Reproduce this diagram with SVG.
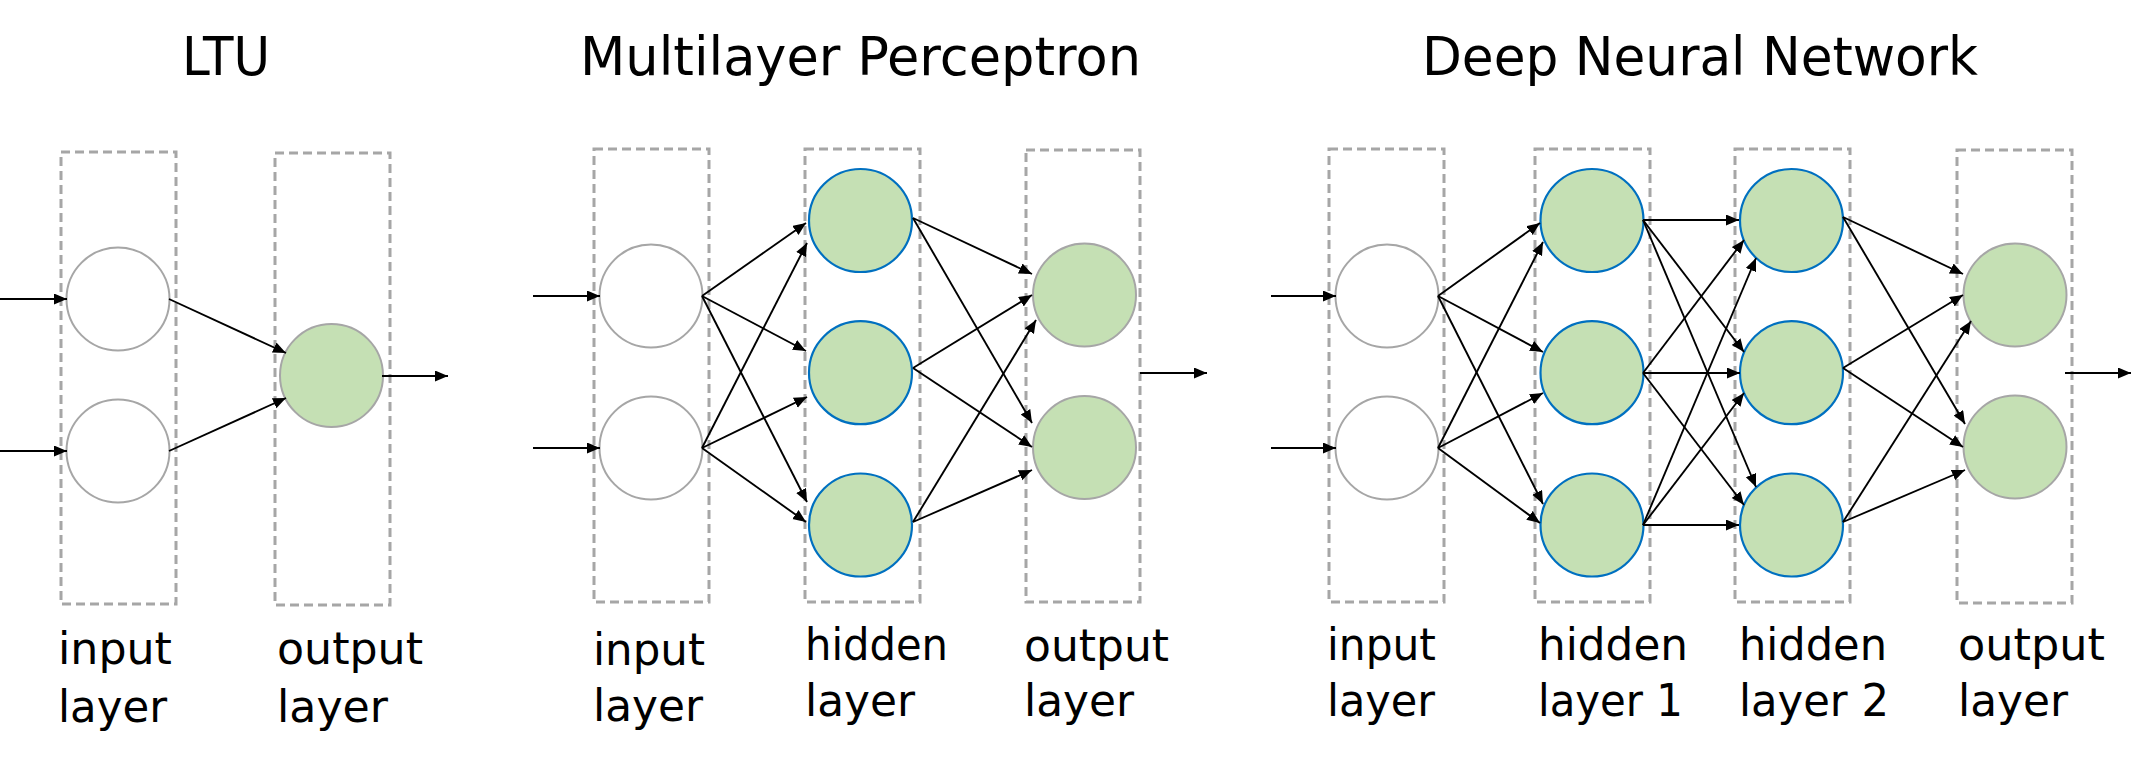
<svg xmlns="http://www.w3.org/2000/svg" width="2153" height="766" viewBox="0 0 2153 766">
<defs>
<marker id="ah" markerUnits="userSpaceOnUse" markerWidth="14" markerHeight="12" refX="13" refY="5.5" orient="auto">
<path d="M0,0 L13,5.5 L0,11 z" fill="#000"/>
</marker>
<style>
.box{fill:none;stroke:#a6a6a6;stroke-width:3;stroke-dasharray:9 5}
.in{fill:#fff;stroke:#a6a6a6;stroke-width:2}
.hid{fill:#c5e0b4;stroke:#0070c0;stroke-width:2.2}
.out{fill:#c5e0b4;stroke:#a6a6a6;stroke-width:2}
.c line{stroke:#000;stroke-width:1.9;marker-end:url(#ah)}
.t{font-family:"DejaVu Sans",Verdana,sans-serif;fill:#000}
.title{font-size:53px}
.lab{font-size:45px}
</style>
</defs>
<rect width="2153" height="766" fill="#fff"/>

<!-- Titles -->
<g id="titles" class="t title">
<text x="182" y="75" textLength="88" lengthAdjust="spacingAndGlyphs">LTU</text>
<text x="580" y="75" textLength="561" lengthAdjust="spacingAndGlyphs">Multilayer Perceptron</text>
<text x="1422" y="75" textLength="556" lengthAdjust="spacingAndGlyphs">Deep Neural Network</text>
</g>

<!-- Layer boxes -->
<g id="layers">
<rect id="ltu-in-box" class="box" x="61" y="152" width="115" height="452"/>
<rect id="ltu-out-box" class="box" x="275" y="153" width="115" height="452"/>
<rect id="mlp-in-box" class="box" x="594" y="149" width="115" height="453"/>
<rect id="mlp-hid-box" class="box" x="805" y="149" width="115" height="453"/>
<rect id="mlp-out-box" class="box" x="1026" y="150" width="114" height="452"/>
<rect id="dnn-in-box" class="box" x="1329" y="149" width="115" height="453"/>
<rect id="dnn-h1-box" class="box" x="1535" y="149" width="115" height="453"/>
<rect id="dnn-h2-box" class="box" x="1735" y="149" width="115" height="453"/>
<rect id="dnn-out-box" class="box" x="1957" y="150" width="115" height="453"/>
</g>

<!-- Nodes -->
<g id="ltu-i1"><circle class="in" cx="118" cy="299" r="51.5"/></g>
<g id="ltu-i2"><circle class="in" cx="118" cy="451" r="51.5"/></g>
<g id="ltu-o1"><circle class="out" cx="331.5" cy="375.5" r="51.5"/></g>

<g id="mlp-i1"><circle class="in" cx="651" cy="296" r="51.5"/></g>
<g id="mlp-i2"><circle class="in" cx="651" cy="448" r="51.5"/></g>
<g id="mlp-h1"><circle class="hid" cx="860.5" cy="220.5" r="51.5"/></g>
<g id="mlp-h2"><circle class="hid" cx="860.5" cy="372.7" r="51.5"/></g>
<g id="mlp-h3"><circle class="hid" cx="860.5" cy="525" r="51.5"/></g>
<g id="mlp-o1"><circle class="out" cx="1084.5" cy="295" r="51.5"/></g>
<g id="mlp-o2"><circle class="out" cx="1084.5" cy="447.5" r="51.5"/></g>

<g id="dnn-i1"><circle class="in" cx="1387" cy="296" r="51.5"/></g>
<g id="dnn-i2"><circle class="in" cx="1387" cy="448" r="51.5"/></g>
<g id="dnn-h11"><circle class="hid" cx="1592" cy="220.5" r="51.5"/></g>
<g id="dnn-h12"><circle class="hid" cx="1592" cy="372.7" r="51.5"/></g>
<g id="dnn-h13"><circle class="hid" cx="1592" cy="525" r="51.5"/></g>
<g id="dnn-h21"><circle class="hid" cx="1791.5" cy="220.5" r="51.5"/></g>
<g id="dnn-h22"><circle class="hid" cx="1791.5" cy="372.7" r="51.5"/></g>
<g id="dnn-h23"><circle class="hid" cx="1791.5" cy="525" r="51.5"/></g>
<g id="dnn-o1"><circle class="out" cx="2015" cy="295" r="51.5"/></g>
<g id="dnn-o2"><circle class="out" cx="2015" cy="447" r="51.5"/></g>

<!-- Connectors -->
<g id="connectors" class="c">
<line x1="0" y1="299" x2="67" y2="299"/>
<line x1="0" y1="451" x2="67" y2="451"/>
<line x1="169" y1="299" x2="286" y2="353"/>
<line x1="169" y1="451" x2="286" y2="398"/>
<line x1="382" y1="376" x2="448" y2="376"/>

<line x1="533" y1="296" x2="600" y2="296"/>
<line x1="533" y1="448" x2="600" y2="448"/>
<line x1="702" y1="296" x2="806" y2="223"/>
<line x1="702" y1="296" x2="806" y2="351"/>
<line x1="702" y1="296" x2="807" y2="502"/>
<line x1="702" y1="448" x2="807" y2="243"/>
<line x1="702" y1="448" x2="807" y2="397"/>
<line x1="702" y1="448" x2="806" y2="522"/>
<line x1="913" y1="218" x2="1032" y2="274"/>
<line x1="913" y1="218" x2="1032" y2="423"/>
<line x1="913" y1="368" x2="1032" y2="295"/>
<line x1="913" y1="368" x2="1032" y2="447"/>
<line x1="913" y1="522" x2="1036" y2="320"/>
<line x1="913" y1="522" x2="1032" y2="470"/>
<line x1="1140" y1="373" x2="1207" y2="373"/>

<line x1="1271" y1="296" x2="1336" y2="296"/>
<line x1="1271" y1="448" x2="1336" y2="448"/>
<line x1="1438" y1="296" x2="1540" y2="223"/>
<line x1="1438" y1="296" x2="1543" y2="352"/>
<line x1="1438" y1="296" x2="1543" y2="504"/>
<line x1="1438" y1="448" x2="1543" y2="242"/>
<line x1="1438" y1="448" x2="1543" y2="393"/>
<line x1="1438" y1="448" x2="1540" y2="523"/>
<line x1="1643" y1="220" x2="1739" y2="220"/>
<line x1="1643" y1="220" x2="1744" y2="352"/>
<line x1="1643" y1="220" x2="1756" y2="487"/>
<line x1="1643" y1="373" x2="1744" y2="240"/>
<line x1="1643" y1="373" x2="1740" y2="373"/>
<line x1="1643" y1="373" x2="1744" y2="505"/>
<line x1="1643" y1="525" x2="1756" y2="258"/>
<line x1="1643" y1="525" x2="1744" y2="393"/>
<line x1="1643" y1="525" x2="1739" y2="525"/>
<line x1="1843" y1="217" x2="1963" y2="274"/>
<line x1="1843" y1="217" x2="1965" y2="424"/>
<line x1="1843" y1="368" x2="1963" y2="295"/>
<line x1="1843" y1="368" x2="1963" y2="447"/>
<line x1="1843" y1="522" x2="1971" y2="321"/>
<line x1="1843" y1="522" x2="1965" y2="470"/>
<line x1="2065" y1="373" x2="2131" y2="373"/>
</g>

<!-- Layer labels -->
<g id="labels" class="t lab">
<text x="58" y="664" textLength="114" lengthAdjust="spacingAndGlyphs">input</text>
<text x="58" y="722" textLength="109" lengthAdjust="spacingAndGlyphs">layer</text>
<text x="277" y="664" textLength="146" lengthAdjust="spacingAndGlyphs">output</text>
<text x="277" y="722" textLength="111" lengthAdjust="spacingAndGlyphs">layer</text>

<text x="593" y="665" textLength="112" lengthAdjust="spacingAndGlyphs">input</text>
<text x="593" y="721" textLength="110" lengthAdjust="spacingAndGlyphs">layer</text>
<text x="805" y="660" textLength="143" lengthAdjust="spacingAndGlyphs">hidden</text>
<text x="805" y="716" textLength="110" lengthAdjust="spacingAndGlyphs">layer</text>
<text x="1024" y="661" textLength="145" lengthAdjust="spacingAndGlyphs">output</text>
<text x="1024" y="716" textLength="110" lengthAdjust="spacingAndGlyphs">layer</text>

<text x="1327" y="660" textLength="109" lengthAdjust="spacingAndGlyphs">input</text>
<text x="1327" y="716" textLength="108" lengthAdjust="spacingAndGlyphs">layer</text>
<text x="1538" y="660" textLength="150" lengthAdjust="spacingAndGlyphs">hidden</text>
<text x="1538" y="716" textLength="145" lengthAdjust="spacingAndGlyphs">layer 1</text>
<text x="1739" y="660" textLength="148" lengthAdjust="spacingAndGlyphs">hidden</text>
<text x="1739" y="716" textLength="150" lengthAdjust="spacingAndGlyphs">layer 2</text>
<text x="1958" y="660" textLength="147" lengthAdjust="spacingAndGlyphs">output</text>
<text x="1958" y="716" textLength="110" lengthAdjust="spacingAndGlyphs">layer</text>
</g>
</svg>
